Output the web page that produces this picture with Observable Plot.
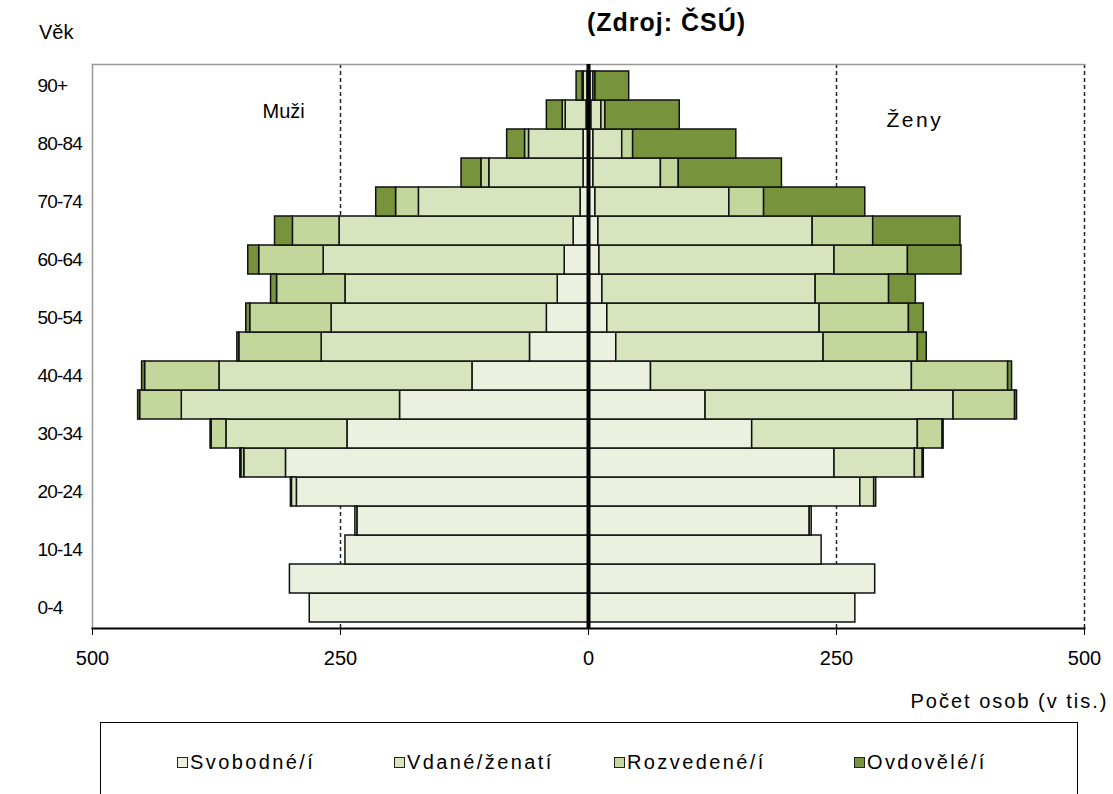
<!DOCTYPE html>
<html>
<head>
<meta charset="utf-8">
<script src="https://cdn.jsdelivr.net/npm/d3@7"></script>
<script src="https://cdn.jsdelivr.net/npm/@observablehq/plot@0.6"></script>
<style>
  body { margin: 0; background: #fff; }
  #wrap { position: relative; width: 1113px; height: 794px; overflow: hidden; font-family: "Liberation Sans", Arial, sans-serif; color: #000; }
  #title { position: absolute; left: 0; width: 1113px; top: 8px; text-align: center; padding-left: 220px; box-sizing: border-box; font-weight: bold; font-size: 25px; letter-spacing: 1px; }
  #vek { position: absolute; left: 39px; top: 21px; font-size: 20px; }
  #chart { position: absolute; left: 0; top: 0; }
  #legend { position: absolute; left: 100px; top: 722px; width: 978px; height: 90px; border: 1.5px solid #000; box-sizing: border-box; }
  .item { position: absolute; top: 28px; font-size: 20px; letter-spacing: 2.4px; display: flex; align-items: center; }
  .sw { width: 9px; height: 9px; border: 1.5px solid #222; margin-right: 2px; }
</style>
</head>
<body>
<div id="wrap">
  <div id="chart"></div>
  <div id="title">(Zdroj: ČSÚ)</div>
  <div id="vek">Věk</div>
  <div id="legend"></div>
</div>
<script>
const ages = ["0-4","5-9","10-14","15-19","20-24","25-29","30-34","35-39","40-44","45-49","50-54","55-59","60-64","65-69","70-74","75-79","80-84","85-89","90+"];
const ageTicks = ["0-4","10-14","20-24","30-34","40-44","50-54","60-64","70-74","80-84","90+"];
const statuses = ["Svobodné/í","Vdané/ženatí","Rozvedené/í","Ovdovělé/í"];
const statusColors = ["#ebf1de","#d7e4bd","#c3d69b","#77933c"];

// Muži (tis.), from 0-4 to 90+
const menSingle   = [281, 301, 245, 233, 294, 305, 243, 190, 117, 59, 42, 31, 24, 15, 8, 5, 5, 2, 1];
const menMarried  = [0, 0, 0, 2, 5, 42, 122, 220, 255, 210, 217, 214, 243, 236, 163, 95, 55, 21, 4];
const menDivorced = [0, 0, 0, 0, 1, 3, 15, 42, 75, 83, 82, 69, 65, 47, 23, 8, 4, 3, 1];
const menWidowed  = [0, 0, 0, 0, 0, 1, 1, 2, 3, 2, 4, 6, 11, 18, 20, 20, 18, 16, 6];

// Ženy (tis.)
const womenSingle   = [269, 289, 235, 223, 274, 248, 165, 118, 63, 28, 19, 14, 11, 10, 7, 5, 5, 3, 2];
const womenMarried  = [0, 0, 0, 2, 14, 81, 167, 250, 263, 209, 214, 215, 237, 216, 135, 68, 29, 10, 3];
const womenDivorced = [0, 0, 0, 0, 2, 8, 25, 62, 97, 95, 90, 74, 74, 61, 35, 18, 11, 4, 2];
const womenWidowed  = [0, 0, 0, 0, 0, 1, 1, 2, 4, 9, 15, 27, 54, 88, 102, 104, 104, 75, 34];

const men = [menSingle, menMarried, menDivorced, menWidowed];
const women = [womenSingle, womenMarried, womenDivorced, womenWidowed];

const rows = [];
statuses.forEach((s, si) => {
  ages.forEach((a, i) => {
    if (men[si][i] > 0) rows.push({age: a, status: s, value: -men[si][i]});
    if (women[si][i] > 0) rows.push({age: a, status: s, value: women[si][i]});
  });
});

const font = '"Liberation Sans", Arial, sans-serif';

const chart = Plot.plot({
  width: 1113,
  height: 715,
  marginTop: 64,
  marginLeft: 92,
  marginRight: 29,
  marginBottom: 87,
  style: {fontFamily: font, fontSize: "20px", color: "#000", background: "transparent"},
  x: {domain: [-500, 500]},
  y: {domain: ages.slice().reverse(), padding: 0},
  color: {domain: statuses, range: statusColors},
  marks: [
    Plot.ruleX([-250, 250, 500], {stroke: "#222", strokeWidth: 1.5, strokeDasharray: "4,3"}),
    Plot.frame({anchor: "top", stroke: "#999", strokeWidth: 1.5}),
    Plot.frame({anchor: "left", stroke: "#999", strokeWidth: 1.5}),
    Plot.barX(rows, Plot.stackX({y: "age", x: "value", z: "status", fill: "status", stroke: "#111", strokeWidth: 1.5})),
    Plot.ruleX([0], {stroke: "#000", strokeWidth: 4}),
    Plot.axisX({ticks: [-500, -250, 0, 250, 500], tickFormat: d => Math.abs(d), tickSize: 7, tickPadding: 15, label: null, fontSize: 20}),
    Plot.axisY({ticks: ageTicks, tickSize: 0, tickPadding: 0, textAnchor: "start", dx: -55, label: null, fontSize: 19, className: "yax"}),
    Plot.frame({anchor: "bottom", stroke: "#000", strokeWidth: 2}),
    Plot.text(["Muži"], {text: d => d, frameAnchor: "top-left", lineAnchor: "middle", dx: 170, dy: 47, textAnchor: "start", fontSize: 20}),
    Plot.text(["Ženy"], {text: d => d, frameAnchor: "top-left", lineAnchor: "middle", dx: 794, dy: 56, textAnchor: "start", fontSize: 21}),
    Plot.text(["Počet osob (v tis.)"], {text: d => d, frameAnchor: "bottom-right", lineAnchor: "middle", dx: 24, dy: 73, textAnchor: "end", fontSize: 20})
  ]
});
// letter spacing tweaks to mimic the original's text widths
chart.querySelectorAll("text").forEach(t => {
  const s = t.textContent;
  if (s === "Počet osob (v tis.)") t.style.letterSpacing = "2px";
  else if (s === "Ženy") t.style.letterSpacing = "2.5px";
  else if (ageTicks.includes(s)) t.style.letterSpacing = "-0.8px";
});
document.getElementById("chart").appendChild(chart);

const legend = document.getElementById("legend");
const legendX = [76, 293, 513, 753];
statuses.forEach((s, i) => {
  const it = document.createElement("div");
  it.className = "item";
  it.style.left = legendX[i] + "px";
  const sw = document.createElement("span");
  sw.className = "sw";
  sw.style.background = statusColors[i];
  it.appendChild(sw);
  const t = document.createElement("span");
  t.textContent = s;
  it.appendChild(t);
  legend.appendChild(it);
});
</script>
</body>
</html>
